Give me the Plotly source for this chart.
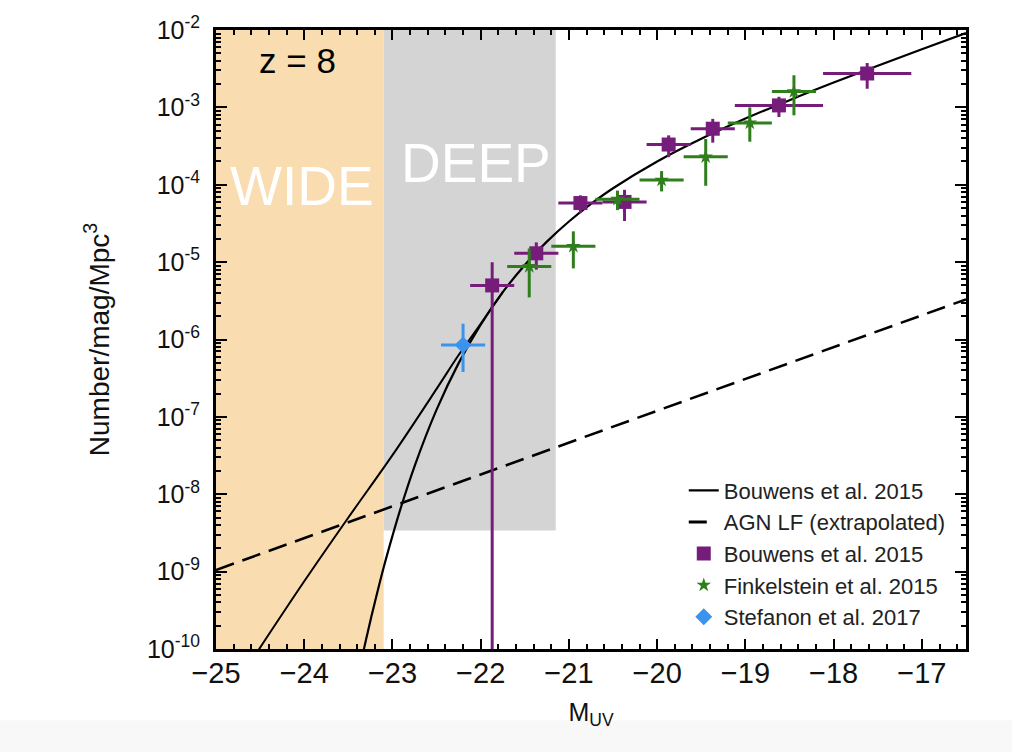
import plotly.graph_objects as go

# ---------------- data ----------------
# Bouwens et al. 2015 model curve (Schechter-like)
sch_M = [-23.40, -23.35, -23.30, -23.20, -23.10, -23.00, -22.90, -22.75, -22.50,
         -22.25, -22.00, -21.75, -21.50, -21.25, -21.00, -20.75, -20.50, -20.00,
         -19.50, -19.00, -18.50, -18.00, -17.50, -17.00, -16.50]
sch_phi = [3.9e-11, 7.2e-11, 1.32e-10, 4.0e-10, 1.13e-9, 2.9e-9, 7.0e-9, 2.3e-8, 1.24e-7,
           4.95e-7, 1.56e-6, 4.09e-6, 9.2e-6, 1.84e-5, 3.35e-5, 5.65e-5, 9.0e-5, 2.0e-4,
           3.93e-4, 7.16e-4, 1.24e-3, 2.09e-3, 3.46e-3, 5.65e-3, 9.15e-3]

# second (power-law-like bright end) solid curve
dpl_M = [-24.60, -24.00, -23.50, -23.00, -22.50, -22.25, -22.00, -21.75]
dpl_phi = [7.0e-11, 7.5e-10, 5.0e-9, 3.2e-8, 2.3e-7, 6.3e-7, 1.6e-6, 4.1e-6]

# AGN LF (extrapolated), dashed straight line
agn_M = [-25.0, -16.5]
agn_phi = [1.05e-9, 3.3e-6]

# Bouwens et al. 2015 data points
bou_M = [-21.87, -21.37, -20.87, -20.37, -19.87, -19.37, -18.62, -17.62]
bou_phi = [5.0e-6, 1.3e-5, 5.8e-5, 6.0e-5, 3.31e-4, 5.30e-4, 1.06e-3, 2.74e-3]
bou_err = [5.0e-6, 5.0e-6, 1.5e-5, 2.6e-5, 1.04e-4, 1.80e-4, 3.1e-4, 1.0e-3]
bou_Merr = [0.25, 0.25, 0.25, 0.25, 0.25, 0.25, 0.5, 0.5]

# Finkelstein et al. 2015 data points
fin_M = [-21.45, -20.95, -20.45, -19.95, -19.45, -18.95, -18.45]
fin_phi = [8.8e-6, 1.6e-5, 6.5e-5, 1.15e-4, 2.3e-4, 6.3e-4, 1.6e-3]
fin_up = [6.2e-6, 9.0e-6, 1.9e-5, 3.5e-5, 1.6e-4, 3.7e-4, 1.0e-3]
fin_lo = [5.3e-6, 7.7e-6, 1.8e-5, 3.3e-5, 1.33e-4, 2.7e-4, 8.1e-4]
fin_Merr = [0.25, 0.25, 0.25, 0.25, 0.25, 0.25, 0.25]

# Stefanon et al. 2017
ste_M = [-22.2]
ste_phi = [8.5e-7]
ste_up = [7.5e-7]
ste_lo = [4.7e-7]
ste_Merr = [0.25]

# survey regions
wide_M = [-25.0, -23.1]
deep_M = [-23.1, -21.15]
deep_phi = [3.4e-9, 1e-2]

x_ticks = [-25, -24, -23, -22, -21, -20, -19, -18, -17]
x_ticktext = ["\u2212" + str(abs(v)) for v in x_ticks]
y_exps = [-10, -9, -8, -7, -6, -5, -4, -3, -2]
y_ticks = [10.0 ** e for e in y_exps]
y_ticktext = ["10<sup>%d</sup>" % e for e in y_exps]

# ---------------- style ----------------
PURPLE = "#761D7B"
GREEN = "#2F7E1C"
BLUE = "#3C93EE"
ORANGE = "#F9DCB0"
GRAY = "#D4D4D4"
FONT = "Liberation Sans, Arial, Helvetica, sans-serif"

fig = go.Figure()

fig.add_shape(type="rect", xref="x", yref="paper", x0=wide_M[0], x1=wide_M[1], y0=0, y1=1,
              fillcolor=ORANGE, line_width=0, layer="below")
fig.add_shape(type="rect", xref="x", yref="y", x0=deep_M[0], x1=deep_M[1],
              y0=deep_phi[0], y1=deep_phi[1], fillcolor=GRAY, line_width=0, layer="below")
fig.add_shape(type="rect", xref="paper", yref="paper", x0=-0.4, x1=1.2, y0=-0.168, y1=-0.115,
              fillcolor="#F8F8F8", line_width=0, layer="below")

fig.add_trace(go.Scatter(x=sch_M, y=sch_phi, mode="lines", name="Bouwens et al. 2015",
                         line=dict(color="black", width=2.2, shape="spline")))
fig.add_trace(go.Scatter(x=dpl_M, y=dpl_phi, mode="lines", showlegend=False,
                         line=dict(color="black", width=2.0, shape="spline")))
fig.add_trace(go.Scatter(x=agn_M, y=agn_phi, mode="lines", showlegend=False,
                         line=dict(color="black", width=2.5, dash="19px,9px")))
# legend-only entry for the dashed AGN line (single short dash like the reference key)
fig.add_trace(go.Scatter(x=[None], y=[None], mode="lines", name="AGN LF (extrapolated)",
                         line=dict(color="black", width=3, dash="18px,40px")))
fig.add_trace(go.Scatter(x=bou_M, y=bou_phi, mode="markers", name="Bouwens et al. 2015",
                         marker=dict(symbol="square", size=14, color=PURPLE),
                         error_x=dict(type="data", array=bou_Merr, thickness=3, width=0, color=PURPLE),
                         error_y=dict(type="data", array=bou_err, thickness=3, width=0, color=PURPLE)))
fig.add_trace(go.Scatter(x=fin_M, y=fin_phi, mode="markers", name="Finkelstein et al. 2015",
                         marker=dict(symbol="star", size=11, color=GREEN),
                         error_x=dict(type="data", array=fin_Merr, thickness=3, width=0, color=GREEN),
                         error_y=dict(type="data", symmetric=False, array=fin_up, arrayminus=fin_lo,
                                      thickness=3, width=0, color=GREEN)))
fig.add_trace(go.Scatter(x=ste_M, y=ste_phi, mode="markers", name="Stefanon et al. 2017",
                         marker=dict(symbol="diamond", size=13, color=BLUE),
                         error_x=dict(type="data", array=ste_Merr, thickness=3, width=0, color=BLUE),
                         error_y=dict(type="data", symmetric=False, array=ste_up, arrayminus=ste_lo,
                                      thickness=3, width=0, color=BLUE)))

fig.add_annotation(text="z = 8", xref="paper", yref="paper", x=0.108, y=0.951,
                   xanchor="center", yanchor="middle",
                   showarrow=False, font=dict(size=35, color="black", family=FONT))
fig.add_annotation(text="WIDE", xref="paper", yref="paper", x=0.1147, y=0.748,
                   xanchor="center", yanchor="middle",
                   showarrow=False, font=dict(size=55, color="white", family=FONT))
fig.add_annotation(text="DEEP", xref="paper", yref="paper", x=0.3467, y=0.785,
                   xanchor="center", yanchor="middle",
                   showarrow=False, font=dict(size=55, color="white", family=FONT))

fig.update_layout(
    width=1012, height=752,
    margin=dict(l=216, r=46, t=25, b=103),
    paper_bgcolor="white", plot_bgcolor="white",
    font=dict(family=FONT, color="black"),
    showlegend=True,
    legend=dict(x=0.6237, y=0.29, xanchor="left", yanchor="top",
                bgcolor="rgba(0,0,0,0)", borderwidth=0,
                font=dict(size=22, family=FONT, color="#222222"),
                itemsizing="trace"),
    xaxis=dict(range=[-25, -16.5], tickmode="array", tickvals=x_ticks, ticktext=x_ticktext,
               ticks="inside", ticklen=10, tickwidth=2, tickcolor="black",
               showline=True, linewidth=3, linecolor="black", mirror="allticks",
               showgrid=False, zeroline=False, ticklabelstandoff=-4,
               tickfont=dict(size=29, family=FONT, color="#111111"),
               minor=dict(ticks="inside", ticklen=5, tickwidth=1.5, tickcolor="black",
                          dtick=0.2, tick0=-25, showgrid=False),
               title=dict(text="M<sub>UV</sub>", font=dict(size=25, family=FONT, color="#111111"),
                          standoff=16)),
    yaxis=dict(type="log", range=[-10, -2], tickmode="array", tickvals=y_ticks, ticktext=y_ticktext,
               ticks="inside", ticklen=11, tickwidth=2, tickcolor="black",
               showline=True, linewidth=3, linecolor="black", mirror="allticks",
               showgrid=False, zeroline=False, ticklabelstandoff=8,
               tickfont=dict(size=25, family=FONT, color="#111111"),
               minor=dict(ticks="inside", ticklen=5, tickwidth=1.5, tickcolor="black",
                          tickmode="array",
                          tickvals=[k * 10.0 ** e for e in range(-10, -2) for k in range(2, 10)],
                          showgrid=False),
               title=dict(text="Number/mag/Mpc<sup>3</sup>",
                          font=dict(size=28, family=FONT, color="#111111"), standoff=30)),
)

fig.write_html("out.html")
